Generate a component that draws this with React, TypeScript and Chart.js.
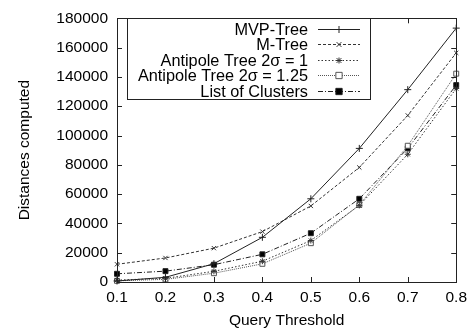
import React, { useEffect, useRef } from "react";
import { Chart, registerables } from "chart.js";

Chart.register(...registerables);

const thresholds = ["0.1", "0.2", "0.3", "0.4", "0.5", "0.6", "0.7", "0.8"];
const mvpTree = [700, 3200, 12500, 30500, 56800, 91200, 131300, 173300];
const mTree = [12100, 16400, 23100, 34400, 51900, 78200, 113700, 156400];
const antipole1 = [1300, 2500, 7300, 14200, 28300, 52300, 87200, 132100];
const antipole125 = [800, 1800, 6000, 12400, 26500, 52600, 93000, 142200];
const listOfClusters = [5600, 7400, 11800, 18900, 33300, 56800, 91200, 134400];
const seriesNames = [
  "MVP-Tree",
  "M-Tree",
  "Antipole Tree 2\u03c3 = 1",
  "Antipole Tree 2\u03c3 = 1.25",
  "List of Clusters",
];

const FONT = "'Liberation Sans', Arial, Helvetica, sans-serif";

const styles = [
  { color: "#222", dash: [], point: "cross", bg: "#222", radius: 3.5 },
  { color: "#333", dash: [3, 2], point: "crossRot", bg: "#333", radius: 3 },
  { color: "#333", dash: [1.5, 2], point: "star", bg: "#333", radius: 3 },
  { color: "#555", dash: [1, 1], point: "rect", bg: "#fff", radius: 3.5 },
  { color: "#222", dash: [5, 2, 1, 2], point: "rect", bg: "#000", radius: 3.5 },
];

function marker(ctx: CanvasRenderingContext2D, kind: string, r: number, x: number, y: number, stroke: string, fill: string) {
  ctx.save();
  ctx.setLineDash([]);
  ctx.strokeStyle = stroke;
  ctx.fillStyle = fill;
  ctx.lineWidth = 1;
  ctx.beginPath();
  if (kind === "cross") {
    ctx.moveTo(x - r, y); ctx.lineTo(x + r, y);
    ctx.moveTo(x, y - r); ctx.lineTo(x, y + r);
    ctx.stroke();
  } else if (kind === "crossRot") {
    const d = r * 0.8;
    ctx.moveTo(x - d, y - d); ctx.lineTo(x + d, y + d);
    ctx.moveTo(x - d, y + d); ctx.lineTo(x + d, y - d);
    ctx.stroke();
  } else if (kind === "star") {
    const d = r * 0.8;
    ctx.moveTo(x - r, y); ctx.lineTo(x + r, y);
    ctx.moveTo(x, y - r); ctx.lineTo(x, y + r);
    ctx.moveTo(x - d, y - d); ctx.lineTo(x + d, y + d);
    ctx.moveTo(x - d, y + d); ctx.lineTo(x + d, y - d);
    ctx.stroke();
  } else {
    const s = r * 0.9;
    ctx.rect(x - s, y - s, 2 * s, 2 * s);
    ctx.fill();
    ctx.stroke();
  }
  ctx.restore();
}

const framePlugin = {
  id: "frameTicks",
  afterDraw(chart: any) {
    const ctx = chart.ctx;
    const a = chart.chartArea;
    const xs = chart.scales.x;
    const ys = chart.scales.y;
    ctx.save();
    ctx.strokeStyle = "#222";
    ctx.lineWidth = 1;
    ctx.setLineDash([]);
    ctx.strokeRect(Math.round(a.left) + 0.5, Math.round(a.top) + 0.5, Math.round(a.right - a.left), Math.round(a.bottom - a.top));
    const tl = 5;
    ctx.beginPath();
    xs.ticks.forEach((_t: any, i: number) => {
      const x = Math.round(xs.getPixelForTick(i)) + 0.5;
      ctx.moveTo(x, a.bottom);
      ctx.lineTo(x, a.bottom - tl);
      ctx.moveTo(x, a.top);
      ctx.lineTo(x, a.top + tl);
    });
    ys.ticks.forEach((_t: any, i: number) => {
      const y = Math.round(ys.getPixelForTick(i)) + 0.5;
      ctx.moveTo(a.left, y);
      ctx.lineTo(a.left + tl, y);
      ctx.moveTo(a.right, y);
      ctx.lineTo(a.right - tl, y);
    });
    ctx.stroke();

    // legend box
    const bx = 127, by = 18, bw = 243, bh = 81;
    ctx.fillStyle = "#fff";
    ctx.fillRect(bx, by, bw, bh);
    ctx.strokeRect(bx + 0.5, by + 0.5, bw, bh);
    ctx.font = "16.3px " + FONT;
    ctx.textAlign = "right";
    ctx.textBaseline = "middle";
    const rows = [28.5, 44, 59.5, 75, 90.5];
    seriesNames.forEach((name, i) => {
      const y = Math.round(rows[i]) + 0.5;
      ctx.fillStyle = "#000";
      ctx.fillText(name, 308, y + 1);
      const s = styles[i];
      ctx.strokeStyle = s.color;
      ctx.setLineDash(s.dash);
      ctx.beginPath();
      ctx.moveTo(318, y);
      ctx.lineTo(360, y);
      ctx.stroke();
      ctx.setLineDash([]);
      marker(ctx, s.point, s.radius, 339, y, s.color, s.bg);
    });
    ctx.restore();
  },
};

export default function App() {
  const ref = useRef<HTMLCanvasElement>(null);
  useEffect(() => {
    if (!ref.current) return;
    const all = [mvpTree, mTree, antipole1, antipole125, listOfClusters];
    const chart = new Chart(ref.current, {
      type: "line",
      data: {
        labels: thresholds,
        datasets: all.map((d, i) => ({
          label: seriesNames[i],
          data: d,
          borderColor: styles[i].color,
          borderWidth: 1,
          borderDash: styles[i].dash,
          pointStyle: styles[i].point as any,
          pointRadius: styles[i].radius,
          pointBorderColor: styles[i].color,
          pointBackgroundColor: styles[i].bg,
          pointBorderWidth: 1,
          tension: 0,
          clip: false as any,
          fill: false,
        })),
      },
      options: {
        animation: false,
        responsive: false,
        devicePixelRatio: 1,
        layout: { padding: { left: 0, right: 15, top: 15, bottom: 0 } },
        plugins: {
          legend: { display: false },
          tooltip: { enabled: false },
        },
        scales: {
          x: {
            type: "category",
            offset: false,
            grid: { display: false, drawTicks: false },
            border: { display: false },
            ticks: {
              color: "#000",
              font: { family: FONT, size: 15.5 },
              padding: 6,
              maxRotation: 0,
              autoSkip: false,
            },
            title: {
              display: true,
              text: "Query Threshold",
              color: "#000",
              font: { family: FONT, size: 15.5 },
              padding: { top: 0, bottom: 0 },
            },
            afterFit(scale: any) {
              scale.height = 48;
            },
          },
          y: {
            min: 0,
            max: 180000,
            grid: { display: false, drawTicks: false },
            border: { display: false },
            ticks: {
              stepSize: 20000,
              color: "#000",
              font: { family: FONT, size: 15.5 },
              padding: 9,
              callback: (v: any) => String(v),
            },
            title: {
              display: true,
              text: "Distances computed",
              color: "#000",
              font: { family: FONT, size: 15.5 },
              padding: { top: 15, bottom: 0 },
            },
            afterFit(scale: any) {
              scale.width = 117;
            },
          },
        },
      },
      plugins: [framePlugin],
    });
    return () => chart.destroy();
  }, []);
  return (
    <div style={{ position: "fixed", left: 0, top: 0, width: 473, height: 330, background: "#fff" }}>
      <canvas ref={ref} width={473} height={330} style={{ width: 473, height: 330, display: "block" }} />
    </div>
  );
}
